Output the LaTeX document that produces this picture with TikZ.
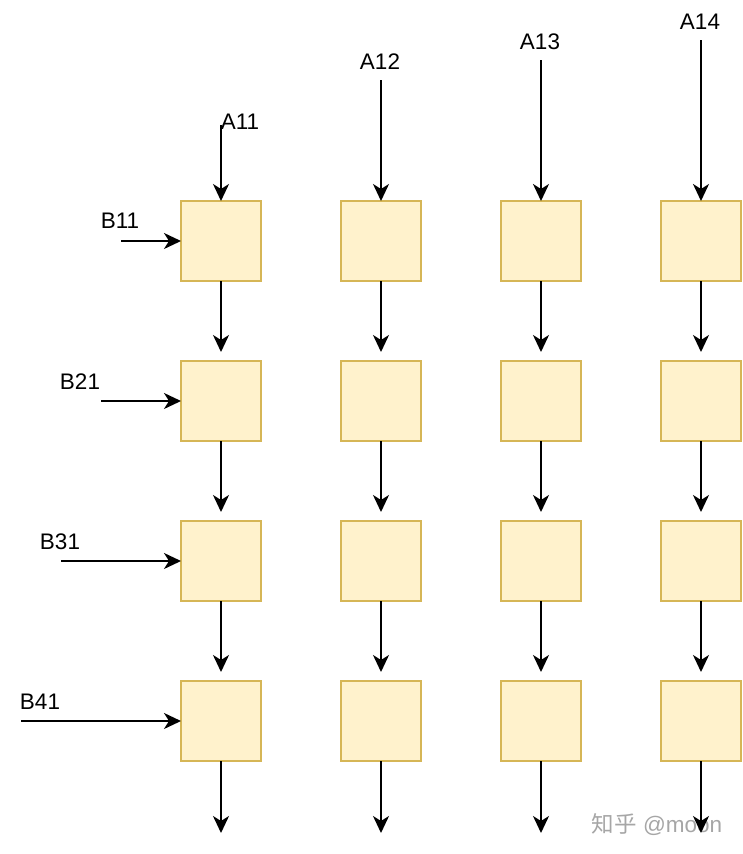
\documentclass[tikz,border=0pt]{standalone}
\usepackage{fontspec}
\setmainfont{Liberation Sans}
\newfontfamily\cjkfont{Noto Sans CJK SC}
\usetikzlibrary{positioning}
\usetikzlibrary{arrows.meta}
\definecolor{cellfill}{HTML}{FFF2CC}
\definecolor{celldraw}{HTML}{D6B656}
\tikzset{
pe_cell/.style={rectangle, draw=celldraw, fill=cellfill, line width=1.5pt, minimum size=80pt, inner sep=0pt, outer sep=0pt},
in_label/.style={inner sep=0pt, font=\fontsize{22.5}{26}\selectfont},
flow/.style={-{Stealth[length=17pt,width=16pt,inset=5pt]}, line width=1.9pt},
mark_text/.style={inner sep=0pt, text=black!35, font=\fontsize{22.5}{26}\selectfont}
}

\begin{document}
\begin{tikzpicture}[x=1pt, y=-1pt]
    \useasboundingbox (0,0) rectangle (742,854);
    % grid of cells
    \node[pe_cell] (c11) at (221,241) {};
    \node[pe_cell] (c12) [right=80pt of c11] {};
    \node[pe_cell] (c13) [right=80pt of c12] {};
    \node[pe_cell] (c14) [right=80pt of c13] {};
    \node[pe_cell] (c21) [below=80pt of c11] {};
    \node[pe_cell] (c22) [right=80pt of c21] {};
    \node[pe_cell] (c23) [right=80pt of c22] {};
    \node[pe_cell] (c24) [right=80pt of c23] {};
    \node[pe_cell] (c31) [below=80pt of c21] {};
    \node[pe_cell] (c32) [right=80pt of c31] {};
    \node[pe_cell] (c33) [right=80pt of c32] {};
    \node[pe_cell] (c34) [right=80pt of c33] {};
    \node[pe_cell] (c41) [below=80pt of c31] {};
    \node[pe_cell] (c42) [right=80pt of c41] {};
    \node[pe_cell] (c43) [right=80pt of c42] {};
    \node[pe_cell] (c44) [right=80pt of c43] {};

    % inputs
    \node[in_label] (a11) at (240,122) {A11};
    \node[in_label] (a12) at (380,62) {A12};
    \node[in_label] (a13) at (540,42) {A13};
    \node[in_label] (a14) at (700,22) {A14};
    \node[in_label] (b11) at (120,221) {B11};
    \node[in_label] (b21) at (80,382) {B21};
    \node[in_label] (b31) at (60,542) {B31};
    \node[in_label] (b41) at (40,702) {B41};
    \coordinate (a11_in) at (221,125);
    \coordinate (a12_in) at (381,80);
    \coordinate (a13_in) at (541,60);
    \coordinate (a14_in) at (701,40);
    \coordinate (b11_in) at (121,241);
    \coordinate (b21_in) at (101,401);
    \coordinate (b31_in) at (61,561);
    \coordinate (b41_in) at (21,721);

    \node[mark_text] (mark) at (657,825) {{\cjkfont 知乎} @moon};

    \foreach \c in {1,2,3,4} {
        \draw[flow] (a1\c_in) -- (c1\c);
        \draw[flow] (b\c1_in) -- (c\c1);
        \draw[flow, shorten >=9pt] (c1\c) -- (c2\c);
        \draw[flow, shorten >=9pt] (c2\c) -- (c3\c);
        \draw[flow, shorten >=9pt] (c3\c) -- (c4\c);
        \coordinate (out\c) at ([yshift=-72pt]c4\c.south);
        \draw[flow] (c4\c) -- (out\c);
    }
\end{tikzpicture}
\end{document}
